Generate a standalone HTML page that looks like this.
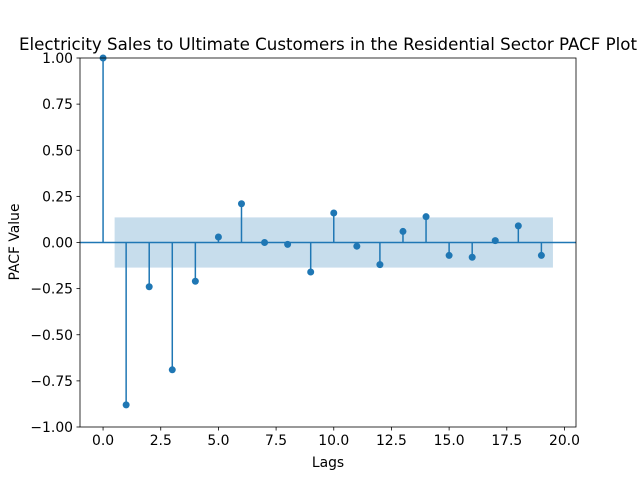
<!DOCTYPE html>
<html><head><meta charset="utf-8"><style>
body{margin:0;background:#fff;font-family:"DejaVu Sans","Liberation Sans",sans-serif}
svg text{font-family:"DejaVu Sans","Liberation Sans",sans-serif}
</style></head><body>
<svg id="chart" width="640" height="480" xmlns="http://www.w3.org/2000/svg"></svg>
<script>
const lags=[0,1,2,3,4,5,6,7,8,9,10,11,12,13,14,15,16,17,18,19];
const pacf=[1,-0.88,-0.24,-0.69,-0.21,0.03,0.21,0.0,-0.01,-0.16,0.16,-0.02,-0.12,0.06,0.14,-0.07,-0.08,0.01,0.09,-0.07];
const confBand=0.136;
const xTicks=[0,2.5,5,7.5,10,12.5,15,17.5,20];
const xTickLabels=["0.0","2.5","5.0","7.5","10.0","12.5","15.0","17.5","20.0"];
const yTicks=[-1,-0.75,-0.5,-0.25,0,0.25,0.5,0.75,1];
const yTickLabels=["−1.00","−0.75","−0.50","−0.25","0.00","0.25","0.50","0.75","1.00"];
const L=80,R=576,T=58,B=427,xmin=-1,xmax=20.5,ymin=-1,ymax=1;
const sx=v=>L+(v-xmin)/(xmax-xmin)*(R-L);
const sy=v=>B-(v-ymin)/(ymax-ymin)*(B-T);
const svg=document.getElementById('chart');
const NS="http://www.w3.org/2000/svg";
function mk(tag,attrs,parent){const e=document.createElementNS(NS,tag);for(const k in attrs)e.setAttribute(k,attrs[k]);(parent||svg).appendChild(e);return e;}
let t=mk('text',{x:328,y:50,'text-anchor':'middle','font-size':16.67,fill:'#000'});t.textContent="Electricity Sales to Ultimate Customers in the Residential Sector PACF Plot";


let band=mk('rect',{x:sx(0.5),y:sy(confBand),width:sx(19.5)-sx(0.5),height:sy(-confBand)-sy(confBand),fill:'#1f77b4','fill-opacity':0.25});


let zl=mk('line',{x1:L,x2:R,y1:sy(0),y2:sy(0),stroke:'#1f77b4','stroke-width':1.5});


lags.forEach((lag,i)=>{
  const s=mk('line',{x1:sx(lag),x2:sx(lag),y1:sy(0),y2:sy(pacf[i]),stroke:'#1f77b4','stroke-width':1.5});
  
  
  const c=mk('circle',{cx:sx(lag),cy:sy(pacf[i]),r:3.5,fill:'#1f77b4'});
  
  
});
let fr=mk('rect',{x:L,y:T,width:R-L,height:B-T,fill:'none',stroke:'#000','stroke-width':0.8});


xTicks.forEach((v,i)=>{
  mk('line',{x1:sx(v),x2:sx(v),y1:B,y2:B+3.5,stroke:'#000','stroke-width':0.8});
  const l=mk('text',{x:sx(v),y:B+18,'text-anchor':'middle','font-size':13.9,fill:'#000'});l.textContent=xTickLabels[i];
  
  
});
yTicks.forEach((v,i)=>{
  mk('line',{x1:L-3.5,x2:L,y1:sy(v),y2:sy(v),stroke:'#000','stroke-width':0.8});
  const l=mk('text',{x:L-7,y:sy(v)+5,'text-anchor':'end','font-size':13.9,fill:'#000'});l.textContent=yTickLabels[i];
  
  
});
let xt=mk('text',{x:328,y:467,'text-anchor':'middle','font-size':13.9,fill:'#000'});xt.textContent="Lags";


let yt=mk('text',{x:19,y:242,'text-anchor':'middle','font-size':13.9,fill:'#000',transform:'rotate(-90 19 242)'});yt.textContent="PACF Value";


</script>
</body></html>
